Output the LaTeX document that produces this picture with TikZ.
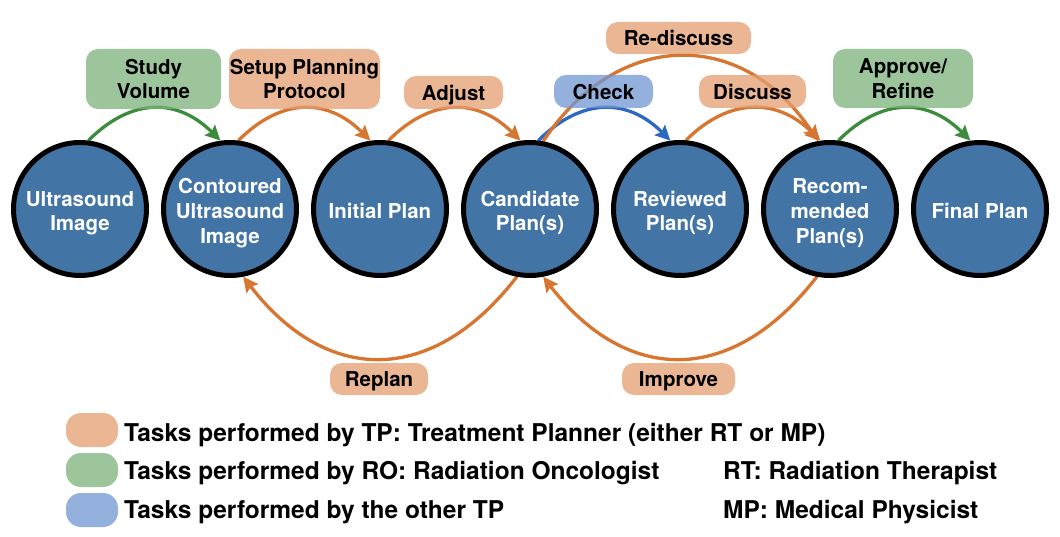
\documentclass[tikz,border=0pt]{standalone}
\usepackage{fontspec}
\setmainfont{TeX Gyre Heros}
\usetikzlibrary{arrows.meta}
\pgfdeclarelayer{background}
\pgfsetlayers{background,main}
\definecolor{cblue}{RGB}{66,117,166}
\definecolor{obox}{RGB}{227,158,112}
\definecolor{gbox}{RGB}{124,178,122}
\definecolor{bbox}{RGB}{112,151,211}
\definecolor{oboxleg}{RGB}{234,182,148}
\definecolor{gboxleg}{RGB}{157,197,155}
\definecolor{bboxleg}{RGB}{148,177,222}
\definecolor{oline}{RGB}{215,118,48}
\definecolor{gline}{RGB}{60,140,60}
\definecolor{bline}{RGB}{45,105,195}
\newcommand{\tstrut}{\rule{0pt}{19pt}}
\begin{document}
\begin{tikzpicture}[x=1pt,y=-1pt,
  state/.style={circle,draw=black,line width=5pt,fill=cblue,minimum size=133pt,inner sep=0pt,
    align=center,text=white,text depth=0pt,font=\fontsize{20.5}{24.7}\selectfont\bfseries},
  tag/.style={rounded corners=12pt,inner sep=0pt,align=center,text depth=0pt,
    font=\fontsize{20.5}{24.7}\selectfont\bfseries,fill opacity=0.75,text opacity=1},
  otag/.style={tag,fill=obox},
  gtag/.style={tag,fill=gbox},
  btag/.style={tag,fill=bbox},
  legbox/.style={rounded corners=15pt,minimum width=52pt,minimum height=34pt,inner sep=0pt},
  legtext/.style={anchor=base west,inner sep=0pt,font=\fontsize{24.5}{29}\selectfont\bfseries},
  flow/.style={line width=3.3pt,-{Stealth[length=15pt,width=14.5pt,inset=2.5pt]}},
]
\useasboundingbox (0,0) rectangle (1060,537);

% states
\node[state] (c1) at (80,209) {\tstrut Ultrasound\\Image};
\node[state] (c2) at (230,209) {\tstrut Contoured\\Ultrasound\\Image};
\node[state] (c3) at (380,209) {\tstrut Initial Plan};
\node[state] (c4) at (530,209) {\tstrut Candidate\\Plan(s)};
\node[state] (c5) at (680,209) {\tstrut Reviewed\\Plan(s)};
\node[state] (c6) at (830,209) {\tstrut Recom-\\mended\\Plan(s)};
\node[state] (c7) at (980,209) {\tstrut Final Plan};

% task labels
\node[gtag,minimum width=135pt,minimum height=60pt] (lstudy) at (153.5,79) {Study\\Volume};
\node[otag,minimum width=151pt,minimum height=60pt] (lsetup) at (304.5,79) {Setup Planning\\Protocol};
\node[otag,minimum width=99pt,minimum height=33pt] (ladjust) at (453.5,92.5) {Adjust};
\node[otag,minimum width=145pt,minimum height=32pt] (lredisc) at (678.5,38) {Re-discuss};
\node[btag,minimum width=99pt,minimum height=33pt] (lcheck) at (603.5,91.5) {Check};
\node[otag,minimum width=107pt,minimum height=33pt] (ldisc) at (752.5,91.5) {Discuss};
\node[gtag,minimum width=140pt,minimum height=59pt] (lapprove) at (903,78.5) {Approve/\\Refine};
\node[otag,minimum width=98pt,minimum height=32pt] (lreplan) at (379,379) {Replan};
\node[otag,minimum width=113pt,minimum height=32pt] (limprove) at (678.5,379) {Improve};

% connectors
\begin{pgfonlayer}{background}
\draw[flow,gline] (c1.83) .. controls +(43,-43) and +(-43,-43) .. (c2.98);
\draw[flow,oline] (c2.83) .. controls +(43,-43) and +(-43,-43) .. (c3.98);
\draw[flow,oline] (c3.83) .. controls +(43,-43) and +(-43,-43) .. (c4.98);
\draw[flow,bline] (c4.83) .. controls +(43,-43) and +(-43,-43) .. (c5.98);
\draw[flow,oline] (c5.85) .. controls +(43,-43) and +(-43,-43) .. (c6.98);
\draw[flow,oline] (c4.79) .. controls +(75,-113) and +(-75,-113) .. (c6.100);
\draw[flow,gline] (c6.83) .. controls +(43,-43) and +(-43,-43) .. (c7.98);
\draw[flow,oline] (c4.-101) .. controls +(-84,109) and +(84,109) .. (c2.-79);
\draw[flow,oline] (c6.-101) .. controls +(-84,109) and +(84,109) .. (c4.-79);
\end{pgfonlayer}

% legend
\node[legbox,fill=oboxleg] (k1) at (92,430) {};
\node[legbox,fill=gboxleg] (k2) at (92,470) {};
\node[legbox,fill=bboxleg] (k3) at (92,510) {};
\node[legtext] (t1) at (124,441) {Tasks performed by TP: Treatment Planner (either RT or MP)};
\node[legtext] (t2) at (124,479) {Tasks performed by RO: Radiation Oncologist};
\node[legtext] (t3) at (124,518) {Tasks performed by the other TP};
\node[legtext] (t4) at (723,479) {RT: Radiation Therapist};
\node[legtext] (t5) at (723,518) {MP: Medical Physicist};
\end{tikzpicture}
\end{document}
